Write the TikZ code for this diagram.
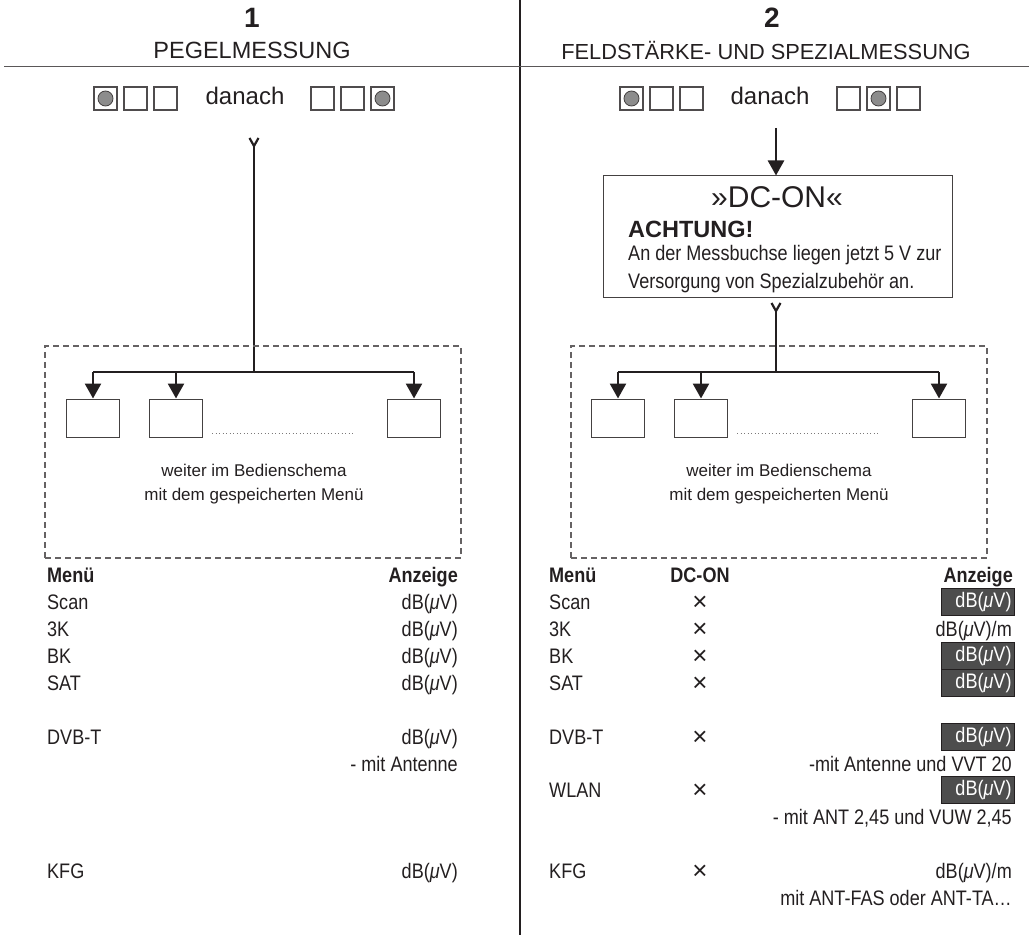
\documentclass[tikz,border=0pt]{standalone}
\usepackage{fontspec}
\setmainfont{Liberation Sans}
\newfontfamily\cond[FakeStretch=0.86]{Liberation Sans}
\usetikzlibrary{arrows.meta}
\definecolor{ink}{HTML}{231F20}
\definecolor{darkcell}{HTML}{4D4D4D}
\begin{document}
\begin{tikzpicture}[x=1pt,y=-1pt,
  every node/.style={text=ink},
  flow/.style={draw=ink, line width=2.6pt},
  arr/.style={flow, -{Triangle[width=16pt,length=15pt]}},
  sq/.style={draw=ink!80, line width=1.1pt, minimum size=23pt, inner sep=0pt, fill=white},
  dotc/.style={circle, draw=ink!85, fill=black!45, line width=0.8pt, minimum size=15pt, inner sep=0pt},
  tbox/.style={draw=ink!85, line width=1pt, minimum width=53pt, minimum height=38pt, inner sep=0pt},
  dbox/.style={draw=ink!70, line width=1.1pt, dash pattern=on 6pt off 4pt},
  dots/.style={draw=ink!60, line width=0.9pt, dash pattern=on 0.9pt off 2.6pt},
  big/.style={font=\fontsize{23.5}{27}\selectfont, inner sep=0pt},
  num/.style={font=\bfseries\fontsize{28}{32}\selectfont, inner sep=0pt},
  mid/.style={font=\fontsize{17}{20}\selectfont, inner sep=0pt},
  cell/.style={font=\cond\fontsize{21}{25}\selectfont, inner sep=0pt, anchor=base west},
  cellr/.style={font=\cond\fontsize{21}{25}\selectfont, inner sep=0pt, anchor=base east},
  cellc/.style={font=\fontsize{26}{30}\selectfont, inner sep=0pt, anchor=base},
  head/.style={font=\cond\bfseries\fontsize{21}{25}\selectfont, inner sep=0pt},
  dk/.style={font=\cond\fontsize{21}{25}\selectfont, fill=darkcell, draw=ink, line width=0.9pt,
     text=white, minimum height=27pt, text width=67pt, inner xsep=3pt, inner ysep=0pt,
     align=right, anchor=east}
]
\useasboundingbox (0,0) rectangle (1029,952);

% frame lines
\coordinate (vtop) at (520,0);
\coordinate (vbot) at (520,935);
\draw[draw=ink, line width=1.1pt] (vtop) -- (vbot);
\coordinate (hl) at (4,66.5);
\coordinate (hr) at (1029,66.5);
\draw[draw=ink!75, line width=1.6pt] (hl) -- (hr);

% headers
\node[num] (n1) at (252,18) {1};
\node[big] (t1) at (252,50) {PEGELMESSUNG};
\node[num] (n2) at (772,18) {2};
\node[big, font=\fontsize{21.8}{26}\selectfont] (t2) at (766,50) {FELDSTÄRKE- UND SPEZIALMESSUNG};

% ---------- left: key squares
\node[sq] (a1) at (105.5,98.5) {};
\node[dotc] (a1c) at (a1) {};
\node[sq] (a2) at (135.5,98.5) {};
\node[sq] (a3) at (165.5,98.5) {};
\node[big, font=\fontsize{24}{28}\selectfont] (da) at (245,96) {danach};
\node[sq] (a4) at (322.5,98.5) {};
\node[sq] (a5) at (352.5,98.5) {};
\node[sq] (a6) at (382.5,98.5) {};
\node[dotc] (a6c) at (a6) {};

% ---------- right: key squares
\node[sq] (b1) at (631.5,98.5) {};
\node[dotc] (b1c) at (b1) {};
\node[sq] (b2) at (661.5,98.5) {};
\node[sq] (b3) at (691.5,98.5) {};
\node[big, font=\fontsize{24}{28}\selectfont] (db) at (770,96) {danach};
\node[sq] (b4) at (848.5,98.5) {};
\node[sq] (b5) at (878.5,98.5) {};
\node[dotc] (b5c) at (b5) {};
\node[sq] (b6) at (908.5,98.5) {};

% ---------- left flow
\coordinate (lt) at (254,146);
\coordinate (ltl) at (249.5,138);
\coordinate (ltr) at (258.5,138);
\draw[flow, line width=2.2pt] (ltl) -- (lt) -- (ltr);
\coordinate (lj) at (254,372);
\draw[flow] (lt) -- (lj);
\node[dbox, minimum width=416pt, minimum height=212pt, inner sep=0pt] (ldash) at (253,452) {};
\node[tbox, fill=white] (lb1) at (93,418) {};
\node[tbox, fill=white] (lb2) at (176,418) {};
\node[tbox, fill=white] (lb3) at (414,418) {};
\coordinate (ld1) at (212,433);
\coordinate (ld2) at (353,433);
\draw[dots] (ld1) -- (ld2);
\coordinate (lk1) at (93,372);
\coordinate (lk3) at (414,372);
\draw[flow] (lk1) -- (lk3);
\draw[arr] (lk1) -- (lb1.north);
\draw[arr] (lb2.north |- lj) -- (lb2.north);
\draw[arr] (lk3) -- (lb3.north);
\node[mid] (lw1) at (254,470) {weiter im Bedienschema};
\node[mid] (lw2) at (254,496) {mit dem gespeicherten Menü};

% ---------- right flow
\coordinate (rt0) at (776,128);
\node[draw=ink!85, line width=1pt, minimum width=349pt, minimum height=122pt, inner sep=0pt] (dc) at (777.5,237) {};
\draw[arr] (rt0) -- (dc.north -| rt0);
\node[inner sep=0pt, font=\fontsize{30}{34}\selectfont] (dct) at (777,197) {»DC-ON«};
\node[inner sep=0pt, anchor=base west, font=\bfseries\fontsize{23.5}{27}\selectfont] (ach) at (628,238) {ACHTUNG!};
\node[cell] (m1) at (628,261) {An der Messbuchse liegen jetzt 5 V zur};
\node[cell] (m2) at (628,289) {Versorgung von Spezialzubehör an.};
\coordinate (rt) at (776,311);
\coordinate (rtl) at (771.5,303);
\coordinate (rtr) at (780.5,303);
\draw[flow, line width=2.2pt] (rtl) -- (rt) -- (rtr);
\coordinate (rj) at (776,372);
\draw[flow] (rt) -- (rj);
\node[dbox, minimum width=416pt, minimum height=212pt, inner sep=0pt] (rdash) at (779,452) {};
\node[tbox, fill=white] (rb1) at (618,418) {};
\node[tbox, fill=white] (rb2) at (701,418) {};
\node[tbox, fill=white] (rb3) at (939,418) {};
\coordinate (rd1) at (737,433);
\coordinate (rd2) at (878,433);
\draw[dots] (rd1) -- (rd2);
\coordinate (rk1) at (618,372);
\coordinate (rk3) at (939,372);
\draw[flow] (rk1) -- (rk3);
\draw[arr] (rk1) -- (rb1.north);
\draw[arr] (rb2.north |- rj) -- (rb2.north);
\draw[arr] (rk3) -- (rb3.north);
\node[mid] (rw1) at (779,470) {weiter im Bedienschema};
\node[mid] (rw2) at (779,496) {mit dem gespeicherten Menü};

% ---------- left table
\node[head, anchor=base west] (lh1) at (47,582.5) {Menü};
\node[head, anchor=base east] (lh2) at (458,582.5) {Anzeige};
\node[cell] (l1) at (47,609.5) {Scan};
\node[cellr] (l1v) at (458,609.5) {dB(\textit{μ}V)};
\node[cell] (l2) at (47,636.5) {3K};
\node[cellr] (l2v) at (458,636.5) {dB(\textit{μ}V)};
\node[cell] (l3) at (47,663.5) {BK};
\node[cellr] (l3v) at (458,663.5) {dB(\textit{μ}V)};
\node[cell] (l4) at (47,690.5) {SAT};
\node[cellr] (l4v) at (458,690.5) {dB(\textit{μ}V)};
\node[cell] (l5) at (47,744.5) {DVB-T};
\node[cellr] (l5v) at (458,744.5) {dB(\textit{μ}V)};
\node[cellr] (l5n) at (458,771.5) {- mit Antenne};
\node[cell] (l6) at (47,878.5) {KFG};
\node[cellr] (l6v) at (458,878.5) {dB(\textit{μ}V)};

% ---------- right table
\node[head, anchor=base west] (rh1) at (549,582.5) {Menü};
\node[head, anchor=base] (rh2) at (700,582.5) {DC-ON};
\node[head, anchor=base east] (rh3) at (1013,582.5) {Anzeige};
\node[cell] (r1) at (549,609.5) {Scan};
\node[cellc] (r1x) at (700,610) {×};
\node[dk] (r1v) at (1015,602) {dB(\textit{μ}V)};
\node[cell] (r2) at (549,636.5) {3K};
\node[cellc] (r2x) at (700,637) {×};
\node[cellr] (r2v) at (1012,636.5) {dB(\textit{μ}V)/m};
\node[cell] (r3) at (549,663.5) {BK};
\node[cellc] (r3x) at (700,664) {×};
\node[dk] (r3v) at (1015,656) {dB(\textit{μ}V)};
\node[cell] (r4) at (549,690.5) {SAT};
\node[cellc] (r4x) at (700,691) {×};
\node[dk] (r4v) at (1015,683) {dB(\textit{μ}V)};
\node[cell] (r5) at (549,744.5) {DVB-T};
\node[cellc] (r5x) at (700,745) {×};
\node[dk] (r5v) at (1015,737) {dB(\textit{μ}V)};
\node[cellr] (r5n) at (1012,771.5) {-mit Antenne und VVT 20};
\node[cell] (r6) at (549,797.5) {WLAN};
\node[cellc] (r6x) at (700,798) {×};
\node[dk] (r6v) at (1015,790) {dB(\textit{μ}V)};
\node[cellr] (r6n) at (1012,824.5) {- mit ANT 2,45 und VUW 2,45};
\node[cell] (r7) at (549,878.5) {KFG};
\node[cellc] (r7x) at (700,879) {×};
\node[cellr] (r7v) at (1012,878.5) {dB(\textit{μ}V)/m};
\node[cellr] (r7n) at (1012,905.5) {mit ANT-FAS oder ANT-TA…};
\end{tikzpicture}
\end{document}
